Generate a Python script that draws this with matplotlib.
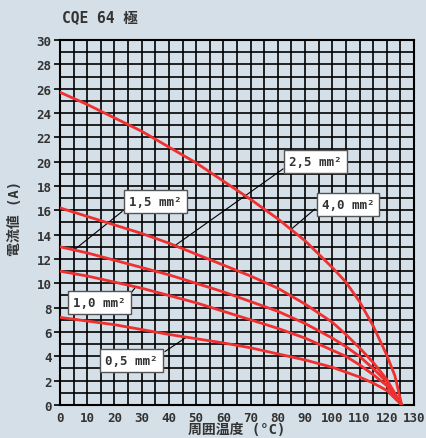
import numpy as np
import matplotlib
matplotlib.use('Agg')
import matplotlib.pyplot as plt

# Ambient temperature (°C) and current (A)
T_40 = [0, 10, 20, 30, 40, 50, 60, 70, 80, 90, 100, 105, 110, 115, 120, 123, 125.5]
I_40 = [25.7, 24.7, 23.6, 22.5, 21.2, 19.9, 18.4, 16.9, 15.3, 13.5, 11.3, 10.1, 8.5, 6.5, 4.1, 2.4, 0]

T_STD = [0, 10, 20, 30, 40, 50, 60, 70, 80, 90, 100, 105, 110, 115, 120, 125.5]
I_25 = [16.2, 15.5, 14.8, 14.1, 13.3, 12.4, 11.5, 10.6, 9.6, 8.3, 6.8, 5.8, 4.7, 3.5, 2.1, 0]
I_15 = [13.0, 12.5, 11.9, 11.3, 10.7, 10.0, 9.3, 8.5, 7.7, 6.7, 5.5, 4.8, 4.0, 3.0, 1.9, 0]
I_10 = [11.0, 10.6, 10.1, 9.6, 9.0, 8.4, 7.7, 7.0, 6.3, 5.5, 4.5, 4.0, 3.3, 2.5, 1.6, 0]
I_05 = [7.2, 6.9, 6.6, 6.2, 5.8, 5.45, 5.1, 4.7, 4.2, 3.7, 3.1, 2.7, 2.3, 1.8, 1.2, 0]

# label text, box centre (T, I), leader start at box corner, leader end on curve
LABELS = [
    ('2,5 mm²', (93.8, 20.05), (81.9, 19.4), (42.2, 13.1)),
    ('1,5 mm²', (35.1, 16.7), (22.8, 15.9), (5.5, 12.8)),
    ('4,0 mm²', (105.8, 16.5), (93.6, 16.1), (85.2, 14.5)),
    ('1,0 mm²', (14.5, 8.46), (26.4, 9.3), (27.8, 9.7)),
    ('0,5 mm²', (26.3, 3.66), (38.6, 4.4), (46.6, 5.6)),
]

BG = '#d4dfe7'
TXT = '#333333'
FONT = ['DejaVu Sans Mono', 'Noto Sans CJK JP']

fig = plt.figure(figsize=(4.27, 4.39), dpi=100, facecolor=BG)
ax = fig.add_axes([0.1405, 0.0752, 0.829, 0.8314], facecolor=BG)

for x in np.arange(0, 131, 5):
    ax.axvline(x, color='black', lw=1.2, zorder=1)
for y in np.arange(0, 31, 1):
    ax.axhline(y, color='black', lw=1.2, zorder=1)

red = '#f03030'
ax.plot(T_40, I_40, color=red, lw=2, zorder=3)
for vals in (I_25, I_15, I_10, I_05):
    ax.plot(T_STD, vals, color=red, lw=2, zorder=3)

for text, (bx, by), (sx, sy), (ex, ey) in LABELS:
    ax.plot([sx, ex], [sy, ey], color='black', lw=0.8, zorder=2)
    ax.text(bx, by, text, ha='center', va='center', fontsize=9, fontweight='bold',
            family=FONT, color=TXT, zorder=5,
            bbox=dict(boxstyle='square,pad=0.4', fc='white', ec='#555555', lw=1))

ax.set_xlim(0, 130)
ax.set_ylim(0, 30)
ax.set_xticks(np.arange(0, 131, 10))
ax.set_yticks(np.arange(0, 31, 2))
ax.tick_params(axis='x', length=0, pad=4, labelsize=9, labelcolor=TXT)
ax.tick_params(axis='y', length=4, width=1.2, pad=2, labelsize=9, labelcolor=TXT)
for lab in ax.get_xticklabels() + ax.get_yticklabels():
    lab.set_family(FONT)
    lab.set_fontweight('bold')
for s in ax.spines.values():
    s.set_linewidth(1.5)

ax.set_xlabel('周囲温度 (°C)', family=FONT, fontweight='bold', fontsize=10,
              color=TXT, labelpad=-1)
ax.set_ylabel('電流値 (A)', family=FONT, fontweight='bold', fontsize=10, color=TXT)
ax.yaxis.set_label_coords(-0.107, 0.515)
fig.text(62 / 427, 1 - 18 / 439, 'CQE 64 極', family=FONT, fontweight='bold',
         fontsize=10.5, color=TXT, ha='left', va='center')

fig.savefig('out.png', dpi=100, facecolor=BG)
